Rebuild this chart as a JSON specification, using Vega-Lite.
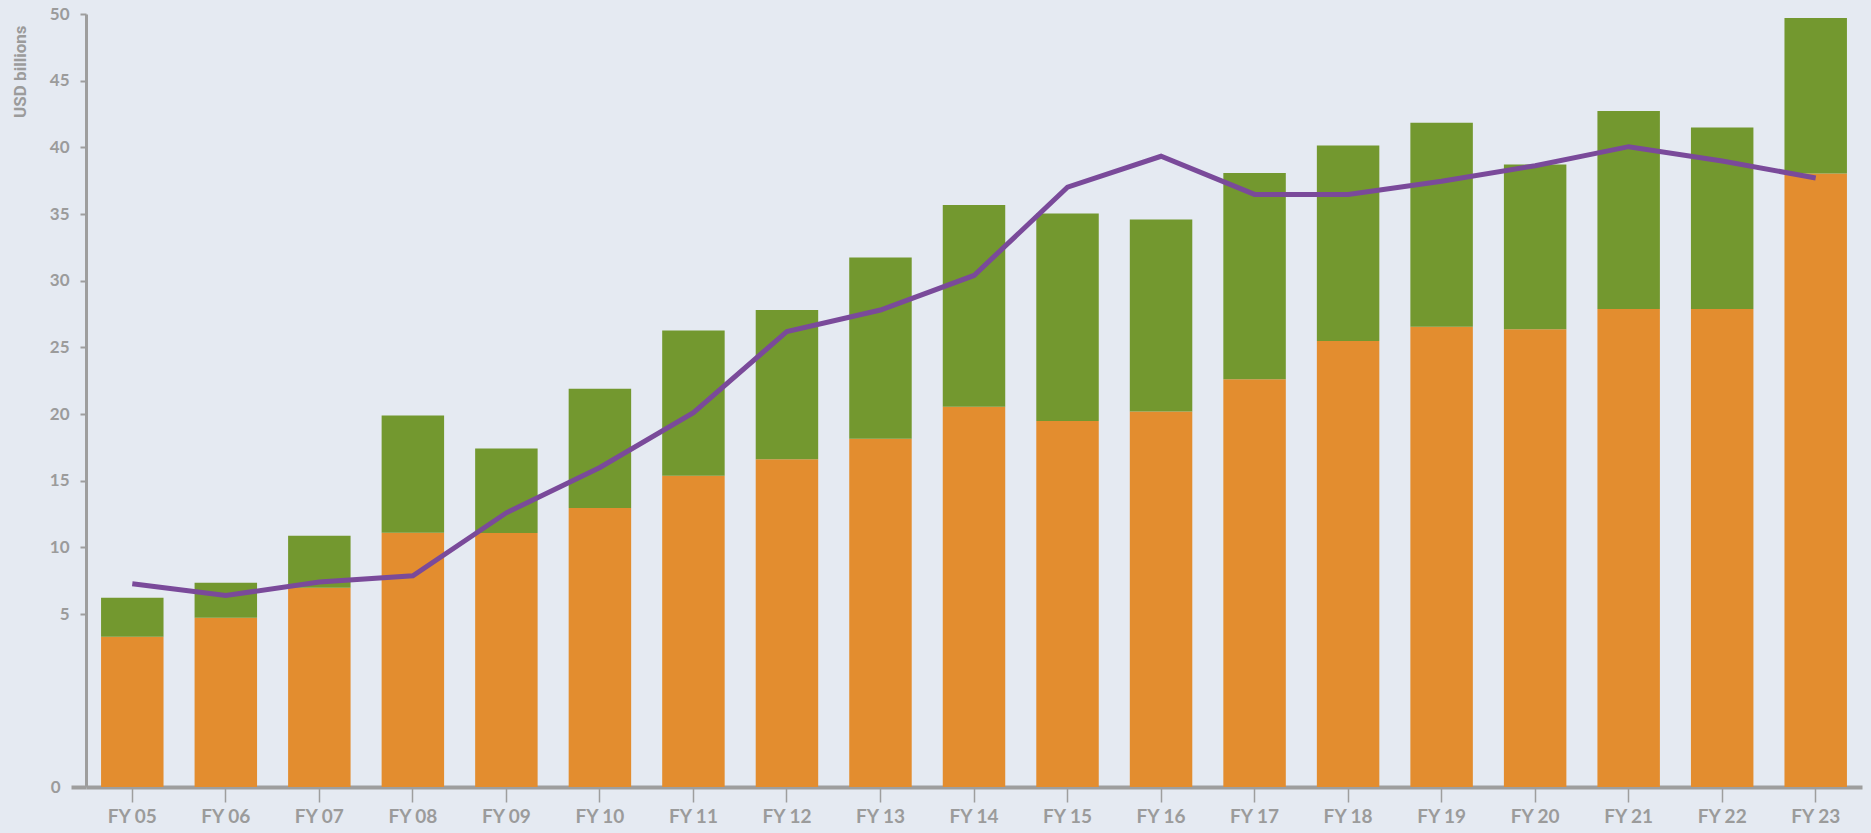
{
  "$schema": "https://vega.github.io/schema/vega-lite/v6.json",
  "width": 1776,
  "height": 773,
  "autosize": {"type": "none"},
  "padding": {"left": 86, "top": 14, "right": 9, "bottom": 46},
  "background": "#E5EAF2",
  "config": {"view": {"stroke": null}},
  "data": {
    "values": [
      {"fy": "FY 05", "base": 4.34, "total": 6.22, "line": 7.27},
      {"fy": "FY 06", "base": 4.89, "total": 7.35, "line": 6.39},
      {"fy": "FY 07", "base": 6.97, "total": 10.87, "line": 7.40},
      {"fy": "FY 08", "base": 11.09, "total": 19.89, "line": 7.87},
      {"fy": "FY 09", "base": 11.07, "total": 17.42, "line": 12.59},
      {"fy": "FY 10", "base": 12.95, "total": 21.89, "line": 15.99},
      {"fy": "FY 11", "base": 15.36, "total": 26.27, "line": 20.10},
      {"fy": "FY 12", "base": 16.61, "total": 27.80, "line": 26.19},
      {"fy": "FY 13", "base": 18.14, "total": 31.73, "line": 27.80},
      {"fy": "FY 14", "base": 20.55, "total": 35.67, "line": 30.39},
      {"fy": "FY 15", "base": 19.48, "total": 35.04, "line": 37.01},
      {"fy": "FY 16", "base": 20.19, "total": 34.59, "line": 39.33},
      {"fy": "FY 17", "base": 22.61, "total": 38.08, "line": 36.47},
      {"fy": "FY 18", "base": 25.47, "total": 40.14, "line": 36.47},
      {"fy": "FY 19", "base": 26.54, "total": 41.84, "line": 37.46},
      {"fy": "FY 20", "base": 26.36, "total": 38.71, "line": 38.62},
      {"fy": "FY 21", "base": 27.88, "total": 42.73, "line": 40.05},
      {"fy": "FY 22", "base": 27.88, "total": 41.48, "line": 38.98},
      {"fy": "FY 23", "base": 38.03, "total": 49.70, "line": 37.70}
    ]
  },
  "encoding": {
    "x": {
      "field": "fy",
      "type": "ordinal",
      "sort": null,
      "scale": {"paddingInner": 0.332, "paddingOuter": 0.161},
      "axis": {
        "title": null,
        "labelAngle": 0,
        "domainColor": "#9E9E9E",
        "domainWidth": 4,
        "tickColor": "#9E9E9E",
        "tickWidth": 1.5,
        "tickSize": 15,
        "labelFont": "Lato",
        "labelFontWeight": "bold",
        "labelFontSize": 19,
        "labelColor": "#9B9B9B",
        "labelPadding": 5
      }
    }
  },
  "layer": [
    {
      "mark": {"type": "bar", "color": "#E38D2F"},
      "encoding": {
        "y": {
          "field": "base",
          "type": "quantitative",
          "scale": {"domain": [0, 5, 50], "range": [773, 600, 0], "nice": false, "zero": false},
          "axis": {
            "title": "USD billions",
            "values": [0, 5, 10, 15, 20, 25, 30, 35, 40, 45, 50],
            "grid": false,
            "domainColor": "#9E9E9E",
            "domainWidth": 3,
            "tickColor": "#9E9E9E",
            "tickWidth": {"condition": {"test": "datum.value === 0", "value": 4}, "value": 2},
            "tickSize": {"condition": {"test": "datum.value === 0", "value": 15}, "value": 6},
            "labelFont": "Lato",
            "labelFontWeight": "bold",
            "labelFontSize": 17,
            "labelColor": "#9B9B9B",
            "labelPadding": 11,
            "titleFont": "Roboto",
            "titleFontWeight": "bold",
            "titleFontSize": 17,
            "titleColor": "#9B9B9B",
            "titleAngle": -90,
            "titleX": -66,
            "titleY": 11,
            "titleAlign": "right",
            "titleBaseline": "middle"
          }
        }
      }
    },
    {
      "mark": {"type": "bar", "color": "#73982F"},
      "encoding": {
        "y": {"field": "base", "type": "quantitative"},
        "y2": {"field": "total"}
      }
    },
    {
      "mark": {"type": "line", "color": "#7A4A9A", "strokeWidth": 5, "strokeCap": "butt"},
      "encoding": {
        "y": {"field": "line", "type": "quantitative"}
      }
    }
  ]
}
